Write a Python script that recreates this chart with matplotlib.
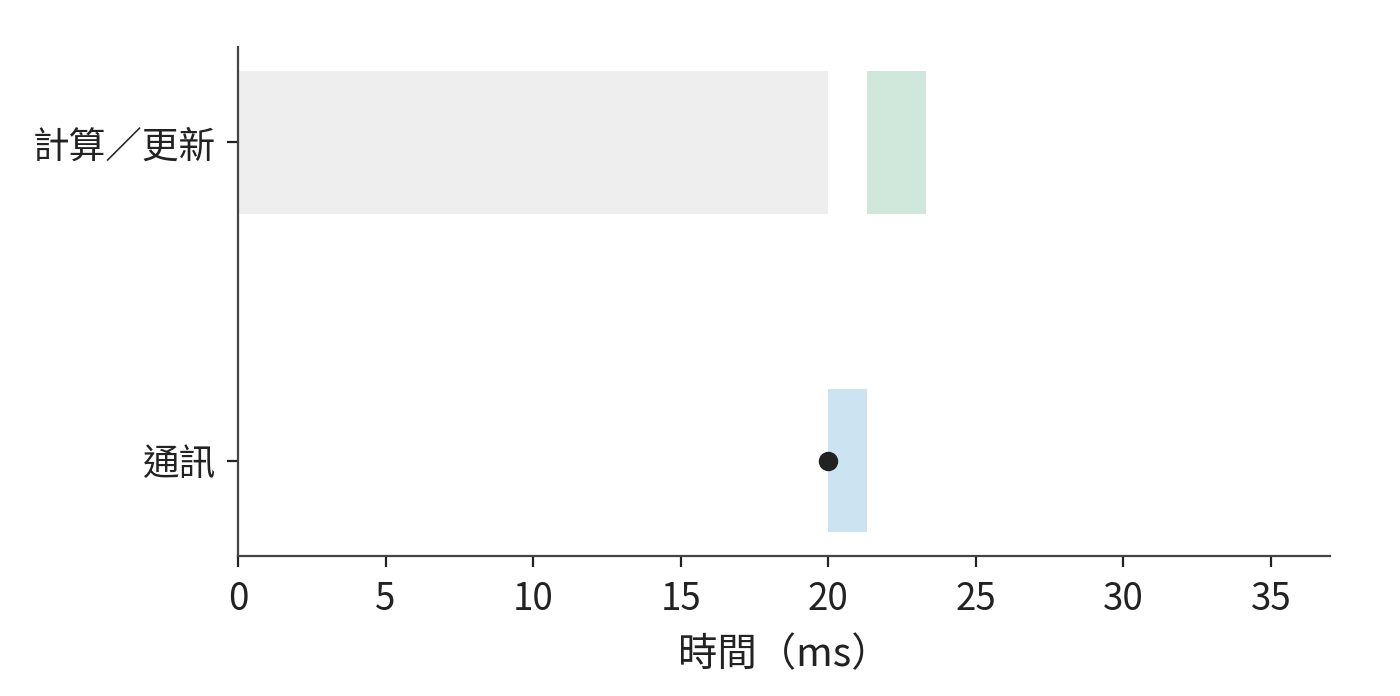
import matplotlib.pyplot as plt

plt.rcParams['font.family'] = ['Noto Sans CJK TC', 'DejaVu Sans']

# data
categories = ['通訊', '計算／更新']
compute_start = [0, 21.3]
compute_width = [20, 2.0]
compute_colors = ['#eeeeee', '#d0e7db']
comm_start = 20
comm_width = 1.3
marker_x = 20
xticks = [0, 5, 10, 15, 20, 25, 30, 35]

fig = plt.figure(figsize=(7, 3.48), dpi=200)
ax = fig.add_axes([0.17, 0.201, 0.78, 0.7315])

bar_h = 0.45
ax.barh(1, compute_width[0], left=compute_start[0], height=bar_h, color=compute_colors[0])
ax.barh(1, compute_width[1], left=compute_start[1], height=bar_h, color=compute_colors[1])
ax.barh(0, comm_width, left=comm_start, height=bar_h, color='#cce3f2')
ax.plot([marker_x], [0], 'o', color='#222222', markersize=6, zorder=5)

ax.set_xlim(0, 37)
ax.set_ylim(-0.3, 1.3)
ax.set_yticks([0, 1])
ax.set_yticklabels(categories)
ax.set_xticks(xticks)
ax.set_xlabel('時間（ms）', fontsize=14.2, color='#222222', labelpad=6)

for s in ['top', 'right']:
    ax.spines[s].set_visible(False)
for s in ['left', 'bottom']:
    ax.spines[s].set_color('#444444')
    ax.spines[s].set_linewidth(0.8)
ax.tick_params(labelsize=13.2, colors='#222222', length=4, width=0.8)
ax.tick_params(axis='x', pad=4.5)
ax.tick_params(axis='y', pad=4)

fig.savefig('out.png', dpi=200)
